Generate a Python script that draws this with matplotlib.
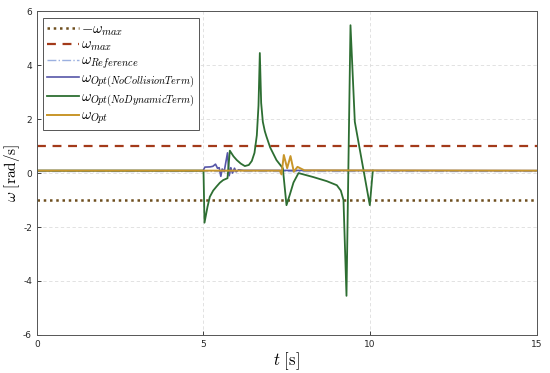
import matplotlib
matplotlib.use("Agg")
import matplotlib.pyplot as plt

plt.rcParams['mathtext.fontset'] = 'cm'
plt.rcParams['font.family'] = ['DejaVu Sans']

# ---- data ----
w_max = 1.0
t_range = [0, 15]
ref_val = [0.09, 0.09]

t_nocol = [0, 4.99, 5.04, 5.2, 5.28, 5.36, 5.42, 5.47, 5.52, 5.56, 5.62, 5.72, 5.77,
           5.82, 5.87, 5.93, 5.98, 6.05, 6.2, 15]
w_nocol = [0.09, 0.09, 0.22, 0.23, 0.25, 0.33, 0.18, 0.2, -0.12, 0.15, 0.05, 0.75, -0.1,
           0.2, 0.0, 0.18, 0.05, 0.12, 0.1, 0.09]

t_nodyn = [0, 5.0, 5.03, 5.12, 5.19, 5.29, 5.39, 5.49, 5.59, 5.72, 5.79, 5.9, 6.0, 6.12,
           6.24, 6.36, 6.45, 6.53, 6.6, 6.65, 6.69, 6.73, 6.78, 6.84, 6.89, 7.0, 7.19,
           7.38, 7.49, 7.59, 7.7, 7.85, 8.3, 8.7, 9.0, 9.12, 9.2, 9.29, 9.41, 9.54,
           9.99, 10.08]
w_nodyn = [0.09, 0.09, -1.84, -1.25, -0.88, -0.65, -0.5, -0.36, -0.26, -0.19, 0.83, 0.62,
           0.48, 0.35, 0.26, 0.3, 0.45, 0.75, 1.4, 2.5, 4.45, 2.6, 1.9, 1.55, 1.35, 0.95,
           0.48, 0.18, -1.19, -0.8, -0.35, 0.0, -0.15, -0.3, -0.45, -0.65, -1.0, -4.55,
           5.48, 1.9, -1.19, 0.09]

t_opt = [0, 7.29, 7.34, 7.41, 7.51, 7.61, 7.71, 7.82, 8.03, 15]
w_opt = [0.09, 0.09, -0.05, 0.67, 0.18, 0.63, 0.05, 0.23, 0.1, 0.09]

labels = [r'$-\omega_{max}$', r'$\omega_{max}$', r'$\omega_{Reference}$',
          r'$\omega_{Opt(NoCollisionTerm)}$', r'$\omega_{Opt(NoDynamicTerm)}$',
          r'$\omega_{Opt}$']

xticks = [0, 5, 10, 15]
yticks = [-6, -4, -2, 0, 2, 4, 6]

# ---- plot ----
fig = plt.figure(figsize=(5.5, 3.73), dpi=100)
ax = fig.add_axes([0.067, 0.102, 0.909, 0.868])

ax.plot(t_range, [-w_max, -w_max], linestyle=(0, (1, 1.5)), color='#6E4E1E', lw=1.8,
        label=labels[0])
ax.plot(t_range, [w_max, w_max], linestyle=(0, (4, 3)), color='#A33A1A', lw=1.6,
        label=labels[1])
ax.plot(t_range, ref_val, linestyle='-.', color='#9BB0E0', lw=1.0, label=labels[2])
ax.plot(t_nocol, w_nocol, color='#5656A8', lw=1.2, label=labels[3])
ax.plot(t_nodyn, w_nodyn, color='#2D6E32', lw=1.3, label=labels[4])
ax.plot(t_opt, w_opt, color='#C8962A', lw=1.4, label=labels[5])

ax.set_xlim(0, 15)
ax.set_ylim(-6, 6)
ax.set_xticks(xticks)
ax.set_yticks(yticks)
ax.set_xticklabels([str(v) for v in xticks])
ax.set_yticklabels([str(v) for v in yticks])
ax.tick_params(direction='in', labelsize=6.5, colors='#262626', length=3, width=0.6)
ax.grid(True, linestyle=(0, (4, 3)), color='#DDDDDD', lw=0.6)
for s in ax.spines.values():
    s.set_color('#555555')
    s.set_linewidth(0.7)

ax.set_xlabel(r'$t\ [\mathrm{s}]$', fontsize=12, labelpad=1)
ax.set_ylabel(r'$\omega\ [\mathrm{rad/s}]$', fontsize=11, labelpad=0)
ax.yaxis.label.set_va('center')
ax.yaxis.set_label_coords(-0.05, 0.5)

leg = ax.legend(loc='upper left', fontsize=10.5, handlelength=2.2, handletextpad=0.15,
                borderaxespad=0.45, labelspacing=-0.06, borderpad=0.25, fancybox=False,
                framealpha=1, edgecolor='#555555')
leg.get_frame().set_linewidth(0.7)

fig.savefig('out.png', dpi=100)
